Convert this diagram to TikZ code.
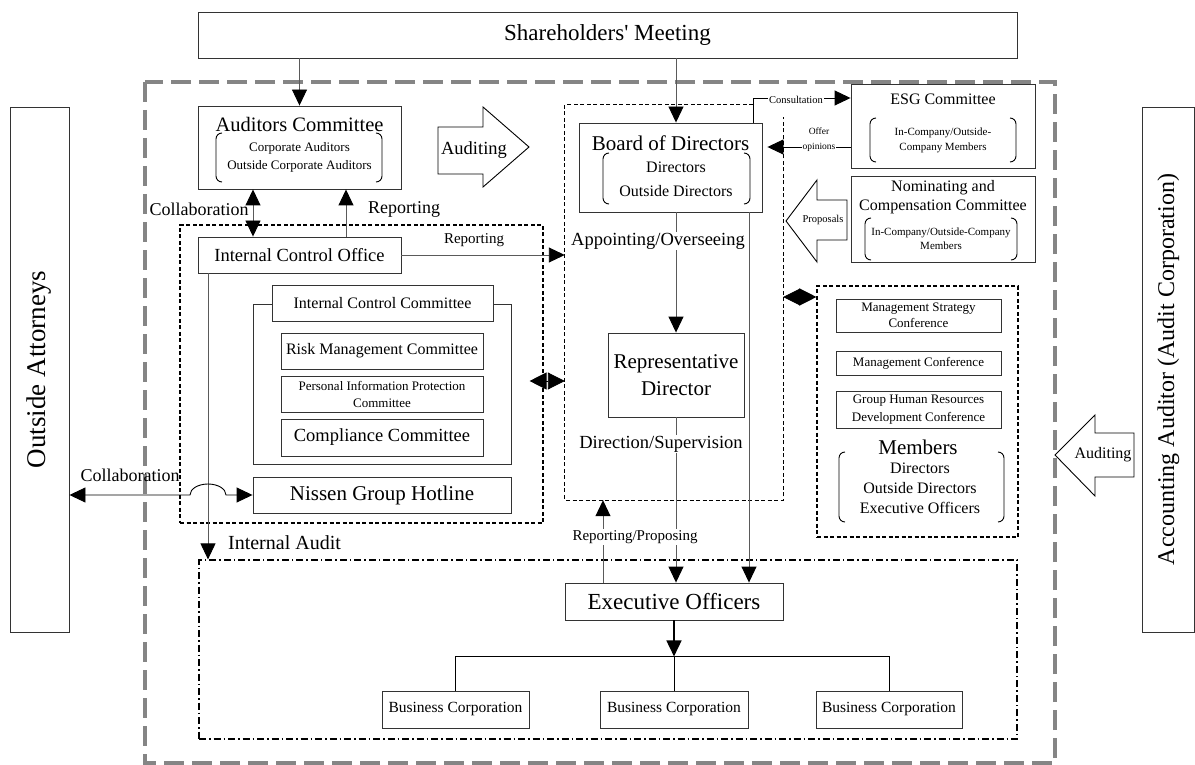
\documentclass[tikz,border=0pt]{standalone}
\usepackage{fontspec}
\setmainfont{Liberation Serif}
\usetikzlibrary{arrows.meta,calc,positioning}
\definecolor{framegray}{HTML}{858585}
\definecolor{linegray}{HTML}{5A5A5A}
\newcommand{\fsz}[2]{\fontsize{#1}{#2}\selectfont}
\newcommand{\drawparens}[4]{%
  \draw[line width=0.9pt,rounded corners=6pt] (#1+6,#2) -- (#1,#2) -- (#1,#4) -- (#1+6,#4);
  \draw[line width=0.9pt,rounded corners=6pt] (#3-6,#2) -- (#3,#2) -- (#3,#4) -- (#3-6,#4);}
\tikzset{
    mybox/.style={draw=black!80,line width=0.9pt,fill=white,inner sep=0pt,align=center},
    myarea/.style={draw=black,line width=1.1pt,dash pattern=on 4pt off 2.5pt,inner sep=0pt},
    mylink/.style={draw=linegray,line width=0.9pt},
    mylabel/.style={inner sep=1pt,align=center},
    mycover/.style={fill=white,inner sep=1pt,align=center},
    myblock/.style={draw=black,line width=0.9pt,fill=white,line join=miter},
    dbl/.style={<->,line width=0.9pt,>={Triangle[length=17pt,width=17pt,color=black]}}
}
\begin{document}
\begin{tikzpicture}[x=1pt,y=-1pt,>={Triangle[length=16pt,width=15pt,color=black]}]
  \useasboundingbox (0,0) rectangle (1195,765);
  % outer frame
  \draw[draw=framegray,line width=3.3pt,dash pattern=on 20pt off 8pt] (145,82) rectangle (1055,763);

  \node[mybox,minimum width=819pt,minimum height=46pt,font=\fsz{23}{27}] (share) at (607.5,35) {Shareholders\textquotesingle\ Meeting};
  \node[mybox,rotate=90,minimum width=525pt,minimum height=59pt,font=\fsz{27}{32}] (attor) at (39.5,369.5) {Outside Attorneys};
  \node[mybox,rotate=90,minimum width=525pt,minimum height=52pt,font=\fsz{24}{28}] (acct) at (1168.5,369.5) {Accounting Auditor (Audit Corporation)};

  % auditors
  \node[mybox,minimum width=203pt,minimum height=83pt] (aud) at (299.5,147.5) {};
  \node[mylabel,font=\fsz{20.5}{24}] (audtitle) at (299.5,124) {Auditors Committee};
  \node[mylabel,font=\fsz{13}{18}] (audmembers) at (299.5,157) {Corporate Auditors\\Outside Corporate Auditors};
  \drawparens{216}{133}{382}{182}
  \draw[myblock] (438,127) -- (483,127) -- (483,107) -- (529,147) -- (483,187) -- (483,174) -- (438,174) -- cycle;
  \node[mylabel,font=\fsz{18.5}{22}] (audarrow) at (474,150) {Auditing};

  % internal control
  \node[myarea,minimum width=363pt,minimum height=298pt] (icd) at (361.5,374) {};
  \node[mybox,minimum width=203pt,minimum height=36pt,font=\fsz{18.5}{22}] (ico) at (299.5,255) {Internal Control Office};
  \node[mybox,minimum width=258pt,minimum height=160pt] (iccframe) at (382,384) {};
  \node[mybox,minimum width=221pt,minimum height=36pt,font=\fsz{16}{19}] (icc) at (382.5,303) {Internal Control Committee};
  \node[mybox,minimum width=202pt,minimum height=36pt,font=\fsz{16}{19}] (risk) at (382,351) {Risk Management Committee};
  \node[mybox,minimum width=202pt,minimum height=36pt,font=\fsz{13}{17}] (pip) at (382,394) {Personal Information Protection\\Committee};
  \node[mybox,minimum width=202pt,minimum height=37pt,font=\fsz{18.5}{22}] (comp) at (382,437.5) {Compliance Committee};
  \node[mybox,minimum width=258pt,minimum height=36pt,font=\fsz{21}{25}] (nissen) at (382,495) {Nissen Group Hotline};

  % board
  \node[minimum width=218pt,minimum height=395pt,inner sep=0pt] (bodarea) at (674,302.5) {};
  \draw[myarea] ([xshift=-30pt]bodarea.north east) -- (bodarea.north west) -- (bodarea.south west)
    -- (bodarea.south east) -- ([yshift=-12pt]bodarea.north east);
  \node[mybox,minimum width=183pt,minimum height=89pt] (bod) at (670.5,167.5) {};
  \node[mylabel,font=\fsz{21}{25}] (bodtitle) at (670.5,143) {Board of Directors};
  \node[mylabel,font=\fsz{16}{24}] (bodmembers) at (676,179) {Directors\\Outside Directors};
  \drawparens{603}{153}{750}{204}
  \node[mybox,minimum width=136pt,minimum height=84pt,font=\fsz{21}{27}] (repdir) at (676,375) {Representative\\Director};

  % committees
  \node[mybox,minimum width=184pt,minimum height=84pt] (esg) at (943,126) {};
  \node[mylabel,font=\fsz{16}{19}] (esgtitle) at (943,99) {ESG Committee};
  \node[mylabel,font=\fsz{11}{15}] (esgmembers) at (943,140.5) {In-Company/Outside-\\Company Members};
  \drawparens{870}{118}{1016}{162}
  \node[mybox,minimum width=184pt,minimum height=86pt] (ncc) at (943,219) {};
  \node[mylabel,font=\fsz{16}{19}] (ncctitle) at (943,197.5) {Nominating and\\Compensation Committee};
  \node[mylabel,font=\fsz{11}{14}] (nccmembers) at (941,239) {In-Company/Outside-Company\\Members};
  \drawparens{865}{218}{1017}{260}
  \draw[myblock] (847,200) -- (817,200) -- (817,180) -- (786,221) -- (817,262) -- (817,240) -- (847,240) -- cycle;
  \node[mylabel,font=\fsz{10.5}{12}] (proparrow) at (823,220) {Proposals};

  % conferences
  \node[myarea,minimum width=201pt,minimum height=251pt] (mgmt) at (917.5,411.5) {};
  \node[mybox,minimum width=165pt,minimum height=33pt,font=\fsz{13}{16}] (msc) at (918.5,315.5) {Management Strategy\\Conference};
  \node[mybox,minimum width=165pt,minimum height=24pt,font=\fsz{13}{16}] (mconf) at (918.5,363) {Management Conference};
  \node[mybox,minimum width=165pt,minimum height=37pt,font=\fsz{13}{18}] (ghr) at (918.5,409.5) {Group Human Resources\\Development Conference};
  \node[mylabel,font=\fsz{21}{25}] (memtitle) at (918,447) {Members};
  \node[mylabel,font=\fsz{16}{20}] (members) at (920,488) {Directors\\Outside Directors\\Executive Officers};
  \drawparens{839}{452}{1004}{522}
  \draw[myblock] (1134,433) -- (1095,433) -- (1095,415) -- (1055,455) -- (1095,496) -- (1095,477) -- (1134,477) -- cycle;
  \node[mylabel,font=\fsz{16}{19}] (acctarrow) at (1103,455) {Auditing};

  % group
  \node[draw=black,line width=1.2pt,dash pattern=on 7pt off 3pt on 1.5pt off 3pt,minimum width=818pt,minimum height=179pt,inner sep=0pt] (grp) at (608,649.5) {};
  \node[mybox,minimum width=218pt,minimum height=37pt,font=\fsz{23}{27}] (eo) at (674,601.5) {Executive Officers};
  \node[mybox,minimum width=147pt,minimum height=37pt,font=\fsz{15.5}{18}] (bc1) at (455.5,709.5) {Business Corporation};
  \node[mybox,minimum width=148pt,minimum height=37pt,font=\fsz{15.5}{18}] (bc2) at (674,709.5) {Business Corporation};
  \node[mybox,minimum width=146pt,minimum height=37pt,font=\fsz{15.5}{18}] (bc3) at (889,709.5) {Business Corporation};

  % connectors
  \coordinate (bodtop) at ([xshift=5.5pt]bod.north);
  \coordinate (collabtop) at ([xshift=-46.5pt]aud.south);
  \coordinate (reptop) at ([xshift=46.5pt]aud.south);
  \coordinate (auditfoot) at ([xshift=-91.5pt]ico.south);
  \coordinate (icdlink) at ([xshift=-14pt,yshift=-7pt]icd.east);
  \coordinate (mgmtlink) at ([yshift=114.5pt]mgmt.west);
  \coordinate (consult) at ([xshift=82.5pt]bod.north);
  \coordinate (offer) at ([yshift=-21pt]esg.west);
  \coordinate (bodright) at ([xshift=78.5pt]bod.south);
  \coordinate (eoleft) at ([xshift=-71pt]eo.north);
  \coordinate (bus) at ([yshift=-36pt]eo.south);

  \draw[mylink,->] (aud.north |- share.south) -- (aud.north);
  \draw[mylink,->] (bodtop |- share.south) -- (bodtop);
  \draw[mylink,<->] (collabtop) -- (collabtop |- ico.north);
  \draw[mylink,->] (reptop |- ico.north) -- (reptop);
  \draw[mylink,->] (ico.east) -- (ico.east -| bodarea.west);
  \draw[mylink,->] (auditfoot) -- (auditfoot |- grp.north);
  \draw[line width=0.9pt,<->] (attor.south |- nissen.west) -- (190,495)
    arc[start angle=180,end angle=360,x radius=18,y radius=11] -- (nissen.west);
  \draw[dbl] (icdlink) -- (icdlink -| bodarea.west);
  \draw[dbl] (bodarea.east |- mgmtlink) -- (mgmtlink);
  \draw[line width=0.9pt,->] (consult) |- ([yshift=28pt]esg.west);
  \draw[line width=0.9pt,->,shorten >=5pt] (offer) -- (offer -| bod.east);
  \draw[mylink,->] (bodtop |- bod.south) -- (repdir.north);
  \draw[mylink,->] (bodright) -- (bodright |- eo.north);
  \draw[mylink,->] (repdir.south) -- (repdir.south |- eo.north);
  \draw[mylink,->] (eoleft) -- (eoleft |- bodarea.south);
  \draw[line width=1.6pt,->] (eo.south) -- (bus);
  \draw[line width=0.9pt] (bc1.north) |- (bus) -| (bc3.north);
  \draw[line width=0.9pt] (bus) -- (bc2.north);

  % labels
  \node[mylabel,font=\fsz{18}{21}] (collab1) at (199,209) {Collaboration};
  \node[mylabel,font=\fsz{18}{21}] (rep1) at (404,209) {Reporting};
  \node[mylabel,font=\fsz{15}{18}] (rep2) at (474,240) {Reporting};
  \node[mylabel,font=\fsz{18}{21}] (collab2) at (130,475) {Collaboration};
  \node[mylabel,font=\fsz{20}{24}] (intaudit) at (284.5,543) {Internal Audit};
  \node[mycover,font=\fsz{10.5}{12}] (consultlbl) at (796,100) {Consultation};
  \node[mycover,font=\fsz{9.5}{15}] (offerlbl) at (819,139.5) {Offer\\opinions};
  \node[mycover,font=\fsz{18.5}{22}] (appoint) at (658,241) {Appointing/Overseeing};
  \node[mycover,font=\fsz{18.5}{22}] (direct) at (661,444) {Direction/Supervision};
  \node[mycover,font=\fsz{15}{18}] (reppro) at (635,537) {Reporting/Proposing};
\end{tikzpicture}
\end{document}
